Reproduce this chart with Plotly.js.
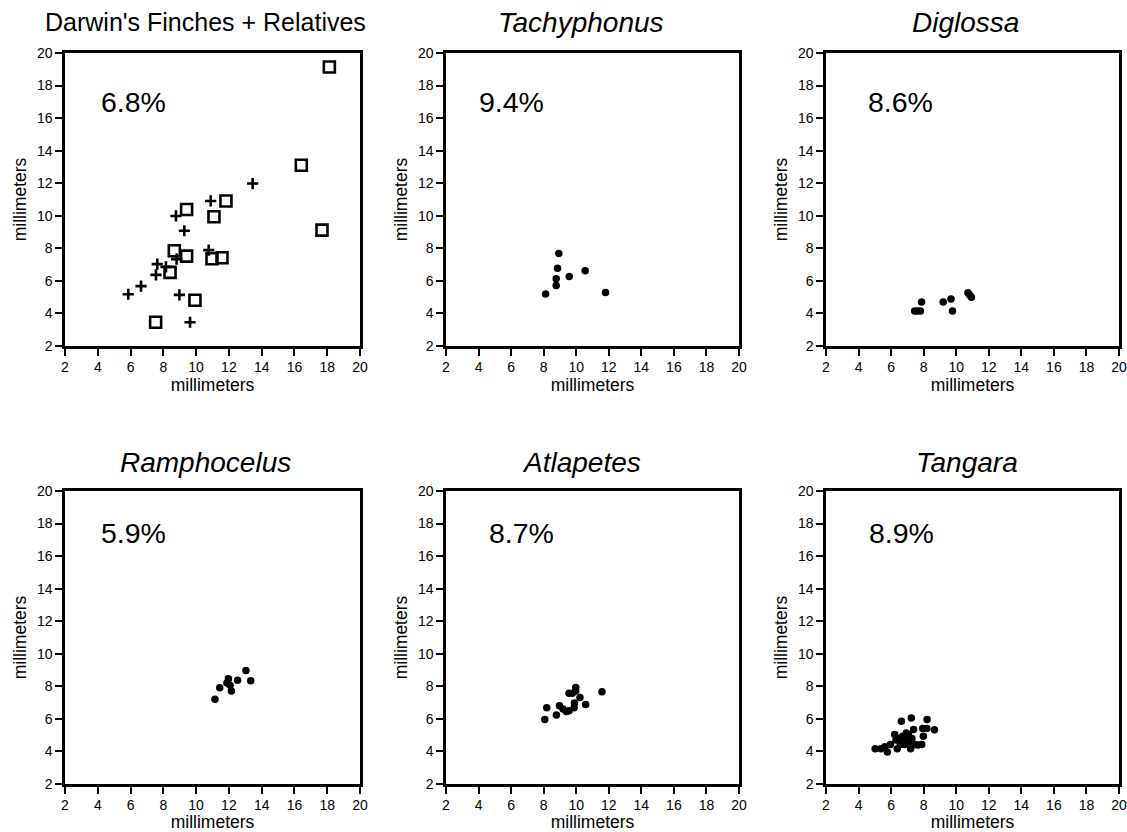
<!DOCTYPE html>
<html>
<head>
<meta charset="utf-8">
<script src="https://cdn.plot.ly/plotly-3.0.1.min.js"></script>
<style>
html, body { margin: 0; padding: 0; background: #fff; }
#chart { width: 1127px; height: 832px; }
</style>
</head>
<body>
<div id="chart"></div>
<script>
// ---- Data ----
const panelTitles = ["Darwin's Finches + Relatives", "Tachyphonus", "Diglossa", "Ramphocelus", "Atlapetes", "Tangara"];
const percentLabels = ["6.8%", "9.4%", "8.6%", "5.9%", "8.7%", "8.9%"];
const tickValues = [2, 4, 6, 8, 10, 12, 14, 16, 18, 20];
const axisTitle = "millimeters";

// Darwin's finches (open squares) and relatives (plus signs)
const darwinSquareX = [18.13, 16.42, 17.68, 11.82, 9.42, 11.09, 8.67, 9.42, 10.97, 11.58, 8.41, 9.93, 7.53];
const darwinSquareY = [19.14, 13.10, 9.12, 10.91, 10.39, 9.94, 7.85, 7.52, 7.36, 7.42, 6.52, 4.81, 3.46];
const darwinPlusX = [13.45, 10.89, 8.77, 9.28, 10.77, 8.81, 7.63, 8.16, 7.55, 6.64, 5.86, 8.98, 9.63];
const darwinPlusY = [11.98, 10.91, 9.99, 9.08, 7.89, 7.34, 7.03, 6.86, 6.37, 5.68, 5.18, 5.14, 3.46];

const tachyphonusX = [8.93, 8.85, 8.77, 8.77, 9.57, 10.55, 8.12, 11.80];
const tachyphonusY = [7.69, 6.77, 6.13, 5.72, 6.27, 6.62, 5.19, 5.29];

const diglossaX = [7.45, 7.62, 7.80, 7.87, 9.20, 9.68, 9.77, 10.72, 10.83, 10.93];
const diglossaY = [4.15, 4.15, 4.15, 4.70, 4.70, 4.88, 4.15, 5.27, 5.13, 4.99];

const ramphocelusX = [11.15, 11.44, 11.97, 11.88, 12.07, 12.15, 12.53, 13.04, 13.33];
const ramphocelusY = [7.20, 7.92, 8.47, 8.20, 8.06, 7.71, 8.37, 8.98, 8.35];

const atlapetesX = [8.07, 8.19, 8.78, 8.97, 9.19, 9.40, 9.56, 9.87, 9.89, 9.56, 9.76, 9.97, 9.97, 10.23, 10.58, 11.58];
const atlapetesY = [5.97, 6.68, 6.24, 6.81, 6.60, 6.46, 6.50, 6.68, 6.97, 7.58, 7.58, 7.93, 7.71, 7.32, 6.89, 7.66];

const tangaraX = [5.02, 5.37, 5.61, 5.77, 5.96, 6.22, 6.38, 6.42, 6.63, 6.63, 6.71, 6.83, 6.97, 7.07, 7.24, 7.20, 7.28, 7.38, 7.48, 7.88, 7.98, 7.94, 8.21, 8.19, 8.66, 6.93, 6.56, 7.12, 7.65, 6.30];
const tangaraY = [4.16, 4.16, 4.29, 3.96, 4.43, 5.04, 4.16, 4.80, 5.86, 4.63, 4.94, 4.43, 4.73, 5.04, 6.06, 4.16, 4.80, 5.35, 4.43, 4.43, 4.94, 5.41, 5.96, 5.41, 5.33, 5.14, 4.43, 4.59, 4.40, 4.70];

// percent label positions (data coords of each panel)
const percentPosX = [4.05, 3.9, 4.45, 4.1, 4.5, 4.5];
const percentPosY = [17.0, 17.0, 17.0, 17.4, 17.4, 17.4];

// ---- Layout geometry ----
const W = 1127, H = 832;
const M = { l: 50, r: 4, t: 50, b: 40 };
const PW = W - M.l - M.r, PH = H - M.t - M.b;
const px2x = p => (p - M.l) / PW;
const py2y = p => 1 - (p - M.t) / PH;

const colPx = [[65, 360], [446, 739], [826, 1119]];
const rowPx = [[53, 346], [491, 784]];
const titleCenterPx = [205, 581, 965, 205, 581, 967];
const titleRowPx = [22, 462];

const FONT = "Liberation Sans, Arial, Helvetica, sans-serif";

function dot(x, y, xa, ya) {
  return {
    type: 'scatter', mode: 'markers', x: x, y: y, xaxis: xa, yaxis: ya,
    marker: { symbol: 'circle', size: 7.5, color: '#000', line: { width: 0 } },
    showlegend: false, hoverinfo: 'x+y'
  };
}

const data = [
  {
    type: 'scatter', mode: 'markers', x: darwinSquareX, y: darwinSquareY, xaxis: 'x', yaxis: 'y',
    marker: { symbol: 'square-open', size: 11, color: '#000', line: { width: 2.6, color: '#000' } },
    showlegend: false, name: "Darwin's finches"
  },
  {
    type: 'scatter', mode: 'markers', x: darwinPlusX, y: darwinPlusY, xaxis: 'x', yaxis: 'y',
    marker: { symbol: 'cross-thin-open', size: 8, color: '#000', line: { width: 2.6, color: '#000' } },
    showlegend: false, name: 'Relatives'
  },
  dot(tachyphonusX, tachyphonusY, 'x2', 'y2'),
  dot(diglossaX, diglossaY, 'x3', 'y3'),
  dot(ramphocelusX, ramphocelusY, 'x4', 'y4'),
  dot(atlapetesX, atlapetesY, 'x5', 'y5'),
  dot(tangaraX, tangaraY, 'x6', 'y6')
];

const layout = {
  width: W, height: H,
  margin: { l: M.l, r: M.r, t: M.t, b: M.b, pad: 0 },
  paper_bgcolor: '#fff', plot_bgcolor: '#fff',
  font: { family: FONT, color: '#000', size: 14 },
  showlegend: false,
  annotations: []
};

for (let i = 0; i < 6; i++) {
  const c = i % 3, r = Math.floor(i / 3);
  const suf = i === 0 ? '' : String(i + 1);
  const xd = [px2x(colPx[c][0]), px2x(colPx[c][1])];
  const yd = [py2y(rowPx[r][1]), py2y(rowPx[r][0])];
  const common = {
    range: [2, 20], tickvals: tickValues, ticktext: tickValues.map(String),
    ticks: 'outside', ticklen: 7, tickwidth: 2, tickcolor: '#000',
    showline: true, linewidth: 2.6, linecolor: '#000', mirror: true,
    showgrid: false, zeroline: false, fixedrange: true,
    ticklabeloverflow: 'allow',
    tickfont: { family: FONT, size: 14, color: '#000' }
  };
  layout['xaxis' + suf] = Object.assign({}, common, {
    domain: xd, anchor: 'y' + suf,
    title: { text: axisTitle, font: { family: FONT, size: 17.5, color: '#000' }, standoff: 2 }
  });
  layout['yaxis' + suf] = Object.assign({}, common, {
    domain: yd, anchor: 'x' + suf,
    title: { text: axisTitle, font: { family: FONT, size: 17.5, color: '#000' }, standoff: 6 }
  });
  layout.annotations.push({
    xref: 'paper', yref: 'paper',
    x: px2x(titleCenterPx[i]), y: py2y(titleRowPx[r]),
    xanchor: 'center', yanchor: 'middle', showarrow: false,
    text: panelTitles[i],
    font: { family: FONT, size: i === 0 ? 25 : 28, color: '#000', style: i === 0 ? 'normal' : 'italic' }
  });
  layout.annotations.push({
    xref: 'x' + suf, yref: 'y' + suf,
    x: percentPosX[i], y: percentPosY[i],
    xanchor: 'left', yanchor: 'middle', showarrow: false,
    text: percentLabels[i],
    font: { family: FONT, size: 28.5, color: '#000' }
  });
}

Plotly.newPlot('chart', data, layout, { displayModeBar: false, staticPlot: true });
</script>
</body>
</html>
